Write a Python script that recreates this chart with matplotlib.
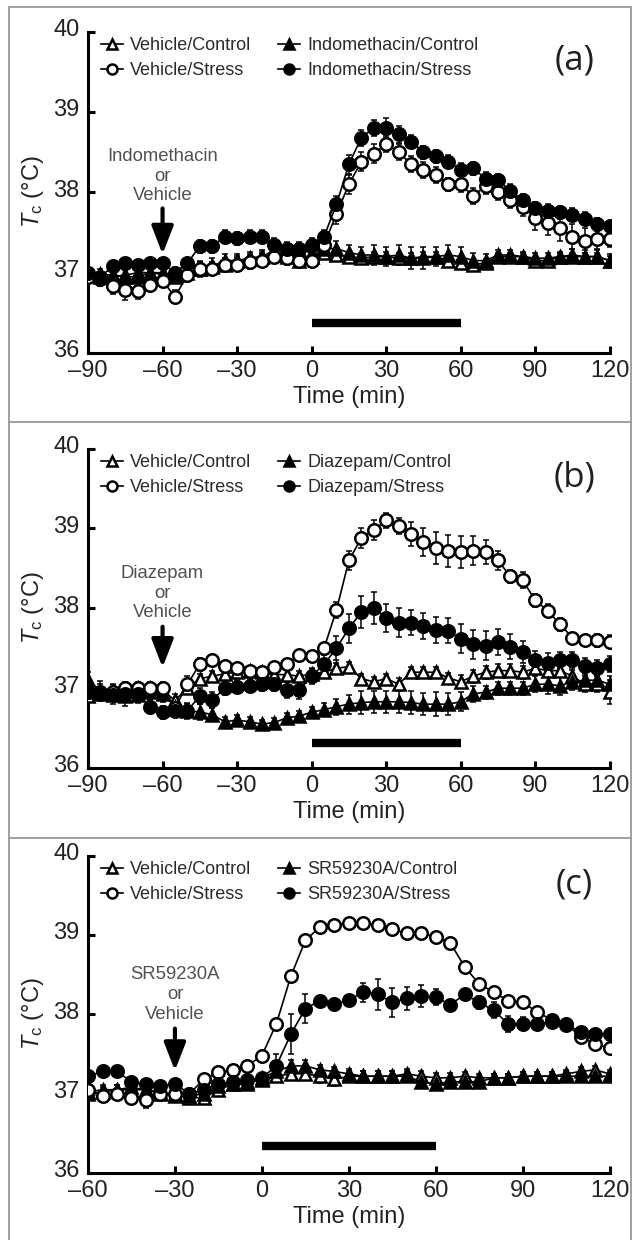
import matplotlib
matplotlib.use('Agg')
import matplotlib.pyplot as plt
import matplotlib.transforms as mtransforms
from matplotlib.lines import Line2D

plt.rcParams['font.family'] = ['Liberation Sans', 'DejaVu Sans']
plt.rcParams['mathtext.fontset'] = 'custom'
plt.rcParams['mathtext.rm'] = 'Liberation Sans'
plt.rcParams['mathtext.it'] = 'Liberation Sans:italic'

# ---- data (Tc in deg C) ----
time_ab = [-90, -85, -80, -75, -70, -65, -60, -55, -50, -45, -40, -35, -30, -25, -20,
           -15, -10, -5, 0, 5, 10, 15, 20, 25, 30, 35, 40, 45, 50, 55, 60, 65, 70,
           75, 80, 85, 90, 95, 100, 105, 110, 115, 120]
time_c = [-60, -55, -50, -45, -40, -35, -30, -25, -20, -15, -10, -5, 0, 5, 10, 15, 20,
          25, 30, 35, 40, 45, 50, 55, 60, 65, 70, 75, 80, 85, 90, 95, 100, 105, 110,
          115, 120]
stress_period = [0, 60]

# panel (a) indomethacin
a_veh_ctrl = [37.00, 36.95, 36.95, 36.97, 37.00, 37.00, 37.00, 36.95, 37.00, 37.05, 37.07,
              37.10, 37.15, 37.17, 37.20, 37.22, 37.20, 37.15, 37.20, 37.25, 37.22, 37.20,
              37.18, 37.20, 37.20, 37.18, 37.18, 37.20, 37.20, 37.15, 37.12, 37.10, 37.12,
              37.20, 37.20, 37.20, 37.15, 37.15, 37.20, 37.20, 37.20, 37.20, 37.15]
a_veh_ctrl_err = [0.05, 0.06, 0.08, 0.08, 0.08, 0.06, 0.06, 0.08, 0.06, 0.06, 0.06,
                  0.06, 0.06, 0.06, 0.06, 0.06, 0.06, 0.06, 0.06, 0.06, 0.06, 0.06,
                  0.06, 0.06, 0.06, 0.06, 0.06, 0.06, 0.06, 0.06, 0.06, 0.05, 0.05,
                  0.05, 0.05, 0.05, 0.05, 0.05, 0.05, 0.05, 0.05, 0.05, 0.06]
a_ind_ctrl = [37.00, 36.98, 36.97, 36.95, 36.95, 37.00, 36.98, 36.97, 37.05, 37.05, 37.08,
              37.15, 37.15, 37.18, 37.20, 37.28, 37.22, 37.28, 37.25, 37.30, 37.30, 37.25,
              37.22, 37.22, 37.20, 37.22, 37.18, 37.18, 37.20, 37.22, 37.20, 37.15, 37.15,
              37.22, 37.22, 37.20, 37.18, 37.18, 37.20, 37.22, 37.20, 37.20, 37.15]
a_ind_ctrl_err = [0.06, 0.06, 0.06, 0.08, 0.08, 0.08, 0.08, 0.10, 0.08, 0.10, 0.10,
                  0.08, 0.08, 0.08, 0.08, 0.08, 0.10, 0.08, 0.10, 0.10, 0.10, 0.10,
                  0.10, 0.12, 0.12, 0.12, 0.14, 0.14, 0.12, 0.12, 0.12, 0.10, 0.08,
                  0.06, 0.06, 0.06, 0.06, 0.06, 0.06, 0.08, 0.08, 0.08, 0.08]
a_veh_str = [36.95, 36.92, 36.83, 36.78, 36.77, 36.85, 36.90, 36.70, 36.97, 37.05, 37.05,
             37.10, 37.10, 37.13, 37.15, 37.20, 37.18, 37.15, 37.15, 37.35, 37.73, 38.10,
             38.38, 38.48, 38.60, 38.50, 38.35, 38.28, 38.22, 38.10, 38.10, 37.95, 38.08,
             38.00, 37.90, 37.82, 37.68, 37.62, 37.55, 37.45, 37.40, 37.42, 37.42]
a_veh_str_err = [0.06, 0.08, 0.10, 0.12, 0.10, 0.08, 0.08, 0.08, 0.08, 0.08, 0.08,
                 0.08, 0.08, 0.08, 0.08, 0.08, 0.08, 0.08, 0.08, 0.10, 0.12, 0.12,
                 0.12, 0.12, 0.10, 0.10, 0.10, 0.10, 0.10, 0.08, 0.10, 0.10, 0.10,
                 0.10, 0.10, 0.12, 0.15, 0.15, 0.15, 0.15, 0.15, 0.12, 0.10]
a_ind_str = [37.00, 36.95, 37.08, 37.12, 37.10, 37.12, 37.12, 37.00, 37.12, 37.33, 37.33,
             37.45, 37.43, 37.45, 37.45, 37.35, 37.30, 37.30, 37.35, 37.45, 37.85, 38.35,
             38.68, 38.80, 38.80, 38.72, 38.63, 38.50, 38.45, 38.38, 38.28, 38.30, 38.17,
             38.15, 38.02, 37.90, 37.80, 37.77, 37.75, 37.72, 37.67, 37.60, 37.58]
a_ind_str_err = [0.05, 0.05, 0.06, 0.06, 0.06, 0.06, 0.06, 0.06, 0.06, 0.08, 0.08,
                 0.08, 0.08, 0.08, 0.08, 0.08, 0.08, 0.08, 0.08, 0.08, 0.10, 0.12,
                 0.10, 0.10, 0.12, 0.10, 0.08, 0.08, 0.08, 0.08, 0.08, 0.08, 0.08,
                 0.08, 0.08, 0.08, 0.08, 0.08, 0.08, 0.08, 0.08, 0.08, 0.06]

# panel (b) diazepam
b_veh_ctrl = [36.90, 36.93, 36.95, 36.97, 37.00, 37.00, 36.97, 36.85, 37.00, 37.12, 37.15,
              37.18, 37.20, 37.22, 37.20, 37.17, 37.17, 37.15, 37.18, 37.20, 37.25, 37.27,
              37.12, 37.08, 37.12, 37.05, 37.20, 37.20, 37.20, 37.13, 37.08, 37.15, 37.20,
              37.22, 37.22, 37.20, 37.25, 37.22, 37.22, 37.15, 37.05, 37.05, 36.95]
b_veh_ctrl_err = [0.06, 0.06, 0.06, 0.06, 0.06, 0.06, 0.06, 0.08, 0.06, 0.06, 0.06,
                  0.06, 0.06, 0.06, 0.06, 0.06, 0.06, 0.06, 0.06, 0.06, 0.06, 0.06,
                  0.06, 0.06, 0.06, 0.08, 0.06, 0.06, 0.06, 0.06, 0.08, 0.08, 0.08,
                  0.08, 0.08, 0.08, 0.08, 0.08, 0.08, 0.08, 0.10, 0.10, 0.15]
b_dzp_ctrl = [37.10, 36.97, 36.92, 36.90, 36.92, 36.95, 36.93, 36.77, 36.72, 36.70, 36.67,
              36.58, 36.60, 36.58, 36.55, 36.57, 36.63, 36.65, 36.70, 36.73, 36.77, 36.80,
              36.82, 36.83, 36.83, 36.83, 36.82, 36.80, 36.80, 36.80, 36.83, 36.93, 36.95,
              37.00, 37.00, 37.00, 37.05, 37.05, 37.03, 37.08, 37.10, 37.10, 37.05]
b_dzp_ctrl_err = [0.10, 0.12, 0.12, 0.12, 0.10, 0.10, 0.10, 0.10, 0.10, 0.10, 0.08,
                  0.06, 0.06, 0.06, 0.05, 0.06, 0.06, 0.06, 0.06, 0.08, 0.10, 0.12,
                  0.14, 0.14, 0.14, 0.14, 0.14, 0.14, 0.15, 0.14, 0.12, 0.10, 0.08,
                  0.08, 0.08, 0.08, 0.10, 0.12, 0.12, 0.10, 0.10, 0.10, 0.10]
b_veh_str = [36.95, 36.95, 36.95, 37.00, 37.00, 37.00, 37.00, 36.75, 37.05, 37.30, 37.35,
             37.28, 37.25, 37.22, 37.20, 37.27, 37.30, 37.42, 37.40, 37.50, 37.98, 38.60,
             38.88, 38.98, 39.10, 39.03, 38.93, 38.83, 38.75, 38.72, 38.70, 38.72, 38.70,
             38.60, 38.40, 38.35, 38.10, 37.97, 37.80, 37.63, 37.60, 37.60, 37.58]
b_veh_str_err = [0.10, 0.10, 0.10, 0.08, 0.08, 0.08, 0.08, 0.10, 0.10, 0.08, 0.06,
                 0.06, 0.06, 0.06, 0.06, 0.06, 0.06, 0.06, 0.06, 0.06, 0.10, 0.12,
                 0.12, 0.12, 0.10, 0.10, 0.15, 0.18, 0.20, 0.20, 0.20, 0.18, 0.15,
                 0.12, 0.08, 0.10, 0.08, 0.08, 0.08, 0.06, 0.06, 0.08, 0.08]
b_dzp_str = [36.95, 36.93, 36.92, 36.93, 36.93, 36.77, 36.70, 36.72, 36.72, 36.90, 36.85,
             37.00, 37.02, 37.03, 37.05, 37.05, 36.98, 36.98, 37.15, 37.30, 37.50, 37.75,
             37.95, 38.00, 37.88, 37.82, 37.82, 37.78, 37.73, 37.72, 37.62, 37.55, 37.53,
             37.58, 37.52, 37.45, 37.35, 37.32, 37.35, 37.35, 37.28, 37.25, 37.30]
b_dzp_str_err = [0.08, 0.08, 0.08, 0.08, 0.08, 0.08, 0.08, 0.08, 0.08, 0.10, 0.10,
                 0.08, 0.08, 0.08, 0.08, 0.08, 0.10, 0.12, 0.10, 0.12, 0.15, 0.18,
                 0.20, 0.20, 0.18, 0.18, 0.16, 0.16, 0.16, 0.16, 0.18, 0.18, 0.18,
                 0.16, 0.16, 0.14, 0.12, 0.12, 0.10, 0.10, 0.10, 0.10, 0.10]

# panel (c) SR59230A
c_veh_ctrl = [37.00, 37.02, 37.05, 37.05, 37.05, 37.00, 37.00, 36.95, 36.95, 37.05, 37.12,
              37.15, 37.17, 37.22, 37.25, 37.25, 37.22, 37.18, 37.22, 37.22, 37.22, 37.22,
              37.25, 37.22, 37.20, 37.20, 37.22, 37.20, 37.20, 37.20, 37.22, 37.22, 37.22,
              37.25, 37.28, 37.30, 37.25]
c_veh_ctrl_err = [0.06, 0.06, 0.06, 0.06, 0.06, 0.06, 0.06, 0.06, 0.06, 0.06, 0.06,
                  0.06, 0.06, 0.06, 0.08, 0.08, 0.08, 0.08, 0.06, 0.06, 0.06, 0.06,
                  0.06, 0.06, 0.06, 0.06, 0.05, 0.05, 0.05, 0.05, 0.05, 0.05, 0.05,
                  0.05, 0.05, 0.05, 0.05]
c_sr_ctrl = [37.02, 37.05, 37.05, 37.08, 37.05, 37.02, 36.97, 36.97, 37.00, 37.10, 37.12,
             37.12, 37.20, 37.28, 37.35, 37.35, 37.30, 37.28, 37.25, 37.22, 37.22, 37.22,
             37.22, 37.15, 37.12, 37.15, 37.15, 37.15, 37.20, 37.20, 37.22, 37.22, 37.22,
             37.22, 37.22, 37.22, 37.22]
c_sr_ctrl_err = [0.06, 0.06, 0.06, 0.06, 0.06, 0.06, 0.06, 0.06, 0.06, 0.06, 0.06,
                 0.06, 0.06, 0.06, 0.08, 0.08, 0.06, 0.06, 0.06, 0.06, 0.06, 0.06,
                 0.06, 0.05, 0.05, 0.05, 0.05, 0.05, 0.05, 0.05, 0.05, 0.05, 0.05,
                 0.05, 0.05, 0.05, 0.05]
c_veh_str = [37.05, 36.97, 37.00, 36.95, 36.92, 37.00, 37.00, 37.00, 37.18, 37.27, 37.30,
             37.35, 37.48, 37.88, 38.48, 38.93, 39.10, 39.13, 39.15, 39.15, 39.13, 39.07,
             39.02, 39.02, 38.98, 38.90, 38.60, 38.38, 38.28, 38.17, 38.15, 38.03, 37.93,
             37.88, 37.72, 37.62, 37.58]
c_veh_str_err = [0.08, 0.08, 0.06, 0.08, 0.10, 0.08, 0.06, 0.06, 0.04, 0.04, 0.04,
                 0.04, 0.04, 0.04, 0.05, 0.04, 0.04, 0.03, 0.03, 0.03, 0.03, 0.04,
                 0.03, 0.03, 0.06, 0.06, 0.04, 0.04, 0.04, 0.04, 0.04, 0.04, 0.04,
                 0.04, 0.04, 0.04, 0.04]
c_sr_str = [37.22, 37.28, 37.28, 37.15, 37.12, 37.10, 37.12, 37.00, 37.05, 37.12, 37.15,
            37.17, 37.20, 37.35, 37.75, 38.07, 38.17, 38.13, 38.18, 38.28, 38.25, 38.15,
            38.20, 38.23, 38.22, 38.12, 38.25, 38.15, 38.05, 37.88, 37.88, 37.88, 37.90,
            37.87, 37.78, 37.75, 37.75]
c_sr_str_err = [0.04, 0.04, 0.04, 0.04, 0.04, 0.06, 0.06, 0.06, 0.06, 0.06, 0.06,
                0.06, 0.06, 0.15, 0.25, 0.18, 0.06, 0.06, 0.06, 0.12, 0.20, 0.18,
                0.14, 0.14, 0.10, 0.06, 0.06, 0.08, 0.10, 0.10, 0.08, 0.08, 0.06,
                0.06, 0.06, 0.05, 0.05]

panels = [
    dict(tag='(a)', drug='Indomethacin', time=time_ab, inj=-60, xlim=(-90, 120),
         xticks=[-90, -60, -30, 0, 30, 60, 90, 120],
         series=[(a_veh_ctrl, a_veh_ctrl_err), (a_ind_ctrl, a_ind_ctrl_err),
                 (a_veh_str, a_veh_str_err), (a_ind_str, a_ind_str_err)],
         text_y=38.2, arrow=(37.80, 37.23), bar_y=36.37),
    dict(tag='(b)', drug='Diazepam', time=time_ab, inj=-60, xlim=(-90, 120),
         xticks=[-90, -60, -30, 0, 30, 60, 90, 120],
         series=[(b_veh_ctrl, b_veh_ctrl_err), (b_dzp_ctrl, b_dzp_ctrl_err),
                 (b_veh_str, b_veh_str_err), (b_dzp_str, b_dzp_str_err)],
         text_y=38.19, arrow=(37.77, 37.26), bar_y=36.31),
    dict(tag='(c)', drug='SR59230A', time=time_c, inj=-30, xlim=(-60, 120),
         xticks=[-60, -30, 0, 30, 60, 90, 120],
         series=[(c_veh_ctrl, c_veh_ctrl_err), (c_sr_ctrl, c_sr_ctrl_err),
                 (c_veh_str, c_veh_str_err), (c_sr_str, c_sr_str_err)],
         text_y=38.25, arrow=(37.82, 37.29), bar_y=36.34),
]

# axes boxes in figure fraction (left, bottom, width, height)
boxes = [(0.1384, 0.7153, 0.8223, 0.2605),
         (0.1384, 0.3806, 0.8223, 0.2589),
         (0.1384, 0.0540, 0.8223, 0.2573)]

styles = [dict(marker='^', mfc='white'), dict(marker='^', mfc='black'),
          dict(marker='o', mfc='white'), dict(marker='o', mfc='black')]

fig = plt.figure(figsize=(6.36, 12.40), dpi=100)
txt = '#222222'

for p, box in zip(panels, boxes):
    ax = fig.add_axes(box)
    labels = ['Vehicle/Control', p['drug'] + '/Control',
              'Vehicle/Stress', p['drug'] + '/Stress']
    handles = []
    for (vals, err), st, lab in zip(p['series'], styles, labels):
        ax.errorbar(p['time'], vals, yerr=err, fmt='none', ecolor='black',
                    elinewidth=1.1, capsize=2.2, capthick=1.1, zorder=2)
        ln, = ax.plot(p['time'], vals, color='black', lw=1.2, marker=st['marker'],
                      ms=9, mfc=st['mfc'], mec='black', mew=1.8, label=lab, zorder=3)
        handles.append(ln)

    # stress bar
    ax.hlines(p['bar_y'], stress_period[0], stress_period[1], color='black',
              lw=6, capstyle='butt')

    # injection annotation
    ax.text(p['inj'], p['text_y'], p['drug'] + '\nor\nVehicle', ha='center',
            va='center', fontsize=13.3, color='#505050', linespacing=1.2)
    ax.annotate('', xy=(p['inj'], p['arrow'][1]), xytext=(p['inj'], p['arrow'][0]),
                arrowprops=dict(arrowstyle='-|>,head_width=0.33,head_length=0.85',
                                lw=3, color='black', shrinkA=0, shrinkB=0,
                                mutation_scale=20))

    ax.set_xlim(p['xlim'][0], p['xlim'][1] + 0.5)
    ax.set_ylim(36, 40.02)
    ax.set_xticks(p['xticks'])
    ax.set_xticklabels([str(t).replace('-', '\u2013') for t in p['xticks']])
    ax.set_yticks([36, 37, 38, 39, 40])
    for s in ['top', 'right']:
        ax.spines[s].set_visible(False)
    for s in ['left', 'bottom']:
        ax.spines[s].set_linewidth(2.2)
    ax.spines['left'].set_bounds(36, 40)
    ax.spines['bottom'].set_bounds(p['xlim'][0], p['xlim'][1])
    ax.tick_params(direction='in', length=5, width=2.2, labelsize=17,
                   labelcolor=txt)
    ax.tick_params(axis='x', pad=5)
    ax.tick_params(axis='y', pad=6)
    up = mtransforms.ScaledTranslation(0, 3 / 72, fig.dpi_scale_trans)
    for lbl in ax.get_yticklabels():
        lbl.set_transform(lbl.get_transform() + up)
    ax.set_xlabel('Time (min)', fontsize=17, color=txt, labelpad=3)
    ax.set_ylabel(r'$T_{\mathrm{c}}$ (°C)', fontsize=17, color=txt, labelpad=5)

    # legend: first column vehicle groups, second column drug groups
    order = [0, 2, 1, 3]
    ax.legend(handles=[handles[i] for i in order], labels=[labels[i] for i in order],
              ncol=2, loc='upper left', bbox_to_anchor=(0.025, 0.978), frameon=False,
              fontsize=13, handlelength=1.2, handletextpad=0.4, columnspacing=1.5,
              labelspacing=0.45, borderpad=0, borderaxespad=0,
              labelcolor='#2a2a2a', markerscale=0.8)

    ax.text(0.93, 0.905, p['tag'], transform=ax.transAxes, ha='center', va='center',
            fontsize=25, family='Open Sans', color='#202020')

# panel frames
frame = dict(color='#a0a0a0', lw=1.4)
for y in [0.9944, 0.6597, 0.3242]:
    fig.add_artist(Line2D([0.0142, 0.992], [y, y], **frame))
fig.add_artist(Line2D([0.0142, 0.0142], [0.0, 0.9944], **frame))
fig.add_artist(Line2D([0.992, 0.992], [0.0, 0.9944], **frame))

fig.savefig('out.png', dpi=100)
